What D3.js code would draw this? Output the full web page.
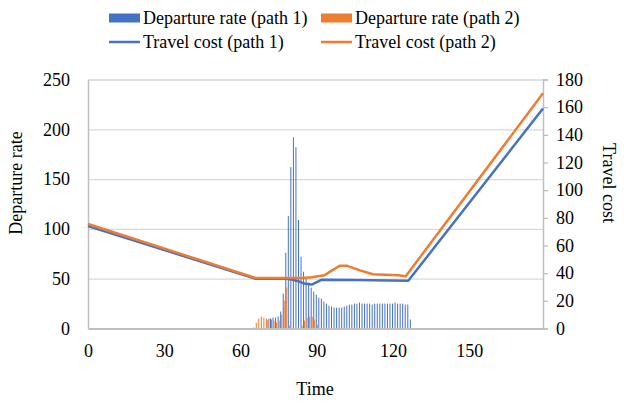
<!DOCTYPE html>
<html>
<head>
<meta charset="utf-8">
<script src="https://cdn.jsdelivr.net/npm/d3@7/dist/d3.min.js"></script>
<style>
  body { margin: 0; background: #fff; }
  svg { display: block; }
  text { font-family: "Liberation Serif", "Times New Roman", serif; fill: #000; }
</style>
</head>
<body>
<svg id="chart" width="624" height="403"></svg>
<script>
// Axis ticks
const timeTicks = [0, 30, 60, 90, 120, 150];
const rateTicks = [0, 50, 100, 150, 200, 250];
const costTicks = [0, 20, 40, 60, 80, 100, 120, 140, 160, 180];

// Departure rate per time step (t = 65 ... 127)
const barTimes = [
  65, 66, 67, 68, 69, 70, 71, 72, 73, 74,
  75, 76, 77, 78, 79, 80, 81, 82, 83, 84,
  85, 86, 87, 88, 89, 90, 91, 92, 93, 94,
  95, 96, 97, 98, 99, 100, 101, 102, 103, 104,
  105, 106, 107, 108, 109, 110, 111, 112, 113, 114,
  115, 116, 117, 118, 119, 120, 121, 122, 123, 124,
  125, 126, 127
];
const ratePath1 = [
  0, 0, 0, 0, 0, 0, 9, 10, 11, 11,
  12, 17, 35, 76, 113, 162, 192, 182, 109, 72,
  57, 51, 46, 41, 37, 34, 31, 30, 27, 25,
  23, 22, 21, 21, 21, 21, 22, 23, 24, 24,
  25, 25, 26, 25, 25, 25, 25, 24, 25, 25,
  25, 25, 25, 25, 25, 25, 26, 25, 25, 25,
  24, 24, 9
];
const ratePath2 = [
  1, 6, 10, 12, 11, 10, 10, 9, 8, 6,
  8, 14, 28, 41, 3, 0, 0, 0, 0, 3,
  8, 11, 12, 12, 9, 4, 0, 0, 0, 0,
  0, 0, 0, 0, 0, 0, 0, 0, 0, 0,
  0, 0, 0, 0, 0, 0, 0, 0, 0, 0,
  0, 0, 0, 0, 0, 0, 0, 0, 0, 0,
  0, 0, 0
];

// Travel cost (time, cost)
const costTimes1 = [0, 66, 78, 80, 83, 85, 88, 90, 92, 105, 126, 179];
const costPath1  = [74, 36, 36, 35.5, 34, 32.5, 31.8, 33.5, 35.3, 35, 34.5, 159];
const costTimes2 = [0, 66, 84, 88, 93, 96, 99, 102, 107, 112, 122, 125, 179];
const costPath2  = [75.5, 36.5, 36.5, 37, 38.5, 42, 45.3, 45.3, 42, 39.2, 38.5, 37.8, 170];

const BLUE = "#4472C4", ORANGE = "#ED7D31";
const GRID = "#D9D9D9", AXIS = "#BFBFBF";

const svg = d3.select("#chart");
const plotL = 88, plotR = 543, plotT = 79.5, plotB = 328.5;

const x = d3.scaleLinear().domain([0, 179]).range([plotL, plotR]);
const yRate = d3.scaleLinear().domain([0, 250]).range([plotB, plotT]);
const yCost = d3.scaleLinear().domain([0, 180]).range([plotB, plotT]);

// Horizontal gridlines
svg.append("g")
  .attr("transform", `translate(${plotL},0)`)
  .call(d3.axisLeft(yRate).tickValues(rateTicks.filter(d => d > 0)).tickSize(-(plotR - plotL)).tickFormat(""))
  .call(g => g.select(".domain").remove())
  .call(g => g.selectAll("line").attr("stroke", GRID).attr("stroke-width", 1.3));

// Left axis
svg.append("g")
  .attr("transform", `translate(${plotL},0)`)
  .call(d3.axisLeft(yRate).tickValues(rateTicks).tickSize(0).tickPadding(18))
  .call(g => g.select(".domain").attr("stroke", AXIS).attr("stroke-width", 1.5))
  .call(g => g.selectAll("text").attr("font-size", 18).style("font-family", '"Liberation Serif", serif'));

// Right axis
svg.append("g")
  .attr("transform", `translate(${plotR},0)`)
  .call(d3.axisRight(yCost).tickValues(costTicks).tickSize(5).tickPadding(8))
  .call(g => g.select(".domain").attr("stroke", AXIS).attr("stroke-width", 1.5))
  .call(g => g.selectAll("line").attr("stroke", AXIS).attr("stroke-width", 1.3))
  .call(g => g.selectAll("text").attr("font-size", 18).style("font-family", '"Liberation Serif", serif'));

// Departure-rate bars (two series side by side in each time slot)
const barW = 1.0;
const bars = barTimes.map((t, i) => ({ t, r1: ratePath1[i], r2: ratePath2[i] }));
const gBars = svg.append("g");
gBars.selectAll("rect.p1").data(bars.filter(d => d.r1 > 0)).join("rect")
  .attr("class", "p1")
  .attr("x", d => x(d.t) - barW)
  .attr("width", barW)
  .attr("y", d => yRate(d.r1))
  .attr("height", d => yRate(0) - yRate(d.r1))
  .attr("fill", BLUE);
gBars.selectAll("rect.p2").data(bars.filter(d => d.r2 > 0)).join("rect")
  .attr("class", "p2")
  .attr("x", d => x(d.t))
  .attr("width", barW)
  .attr("y", d => yRate(d.r2))
  .attr("height", d => yRate(0) - yRate(d.r2))
  .attr("fill", ORANGE);

// Bottom axis
svg.append("g")
  .attr("transform", `translate(0,${plotB})`)
  .call(d3.axisBottom(x).tickValues(timeTicks).tickSize(0).tickPadding(0))
  .call(g => g.select(".domain").attr("stroke", AXIS).attr("stroke-width", 2))
  .call(g => g.selectAll("text").attr("font-size", 18).attr("y", 28).attr("dy", 0)
    .style("font-family", '"Liberation Serif", serif'));

// Travel-cost lines
const line = d3.line().x(d => x(d[0])).y(d => yCost(d[1]));
svg.append("path")
  .datum(costTimes1.map((t, i) => [t, costPath1[i]]))
  .attr("d", line).attr("fill", "none").attr("stroke", BLUE).attr("stroke-width", 2.5)
  .attr("stroke-linejoin", "round");
svg.append("path")
  .datum(costTimes2.map((t, i) => [t, costPath2[i]]))
  .attr("d", line).attr("fill", "none").attr("stroke", ORANGE).attr("stroke-width", 2.5)
  .attr("stroke-linejoin", "round");

// Axis titles
svg.append("text").attr("x", 315).attr("y", 395).attr("text-anchor", "middle")
  .attr("font-size", 18).text("Time");
svg.append("text").attr("transform", "translate(22,183) rotate(-90)")
  .attr("text-anchor", "middle").attr("font-size", 18).text("Departure rate");
svg.append("text").attr("transform", "translate(603,183) rotate(90)")
  .attr("text-anchor", "middle").attr("font-size", 18).text("Travel cost");

// Legend
const legend = [
  { label: "Departure rate (path 1)", color: BLUE, kind: "bar", lx: 109, ly: 18 },
  { label: "Departure rate (path 2)", color: ORANGE, kind: "bar", lx: 321, ly: 18 },
  { label: "Travel cost (path 1)", color: BLUE, kind: "line", lx: 109, ly: 42 },
  { label: "Travel cost (path 2)", color: ORANGE, kind: "line", lx: 321, ly: 42 }
];
const gl = svg.append("g");
legend.forEach(d => {
  if (d.kind === "bar") {
    gl.append("rect").attr("x", d.lx).attr("y", d.ly - 4.5).attr("width", 31).attr("height", 9).attr("fill", d.color);
  } else {
    gl.append("line").attr("x1", d.lx).attr("x2", d.lx + 31).attr("y1", d.ly).attr("y2", d.ly)
      .attr("stroke", d.color).attr("stroke-width", 2.5);
  }
  gl.append("text").attr("x", d.lx + 34).attr("y", d.ly).attr("dy", "0.35em")
    .attr("font-size", 18).text(d.label);
});
</script>
</body>
</html>
